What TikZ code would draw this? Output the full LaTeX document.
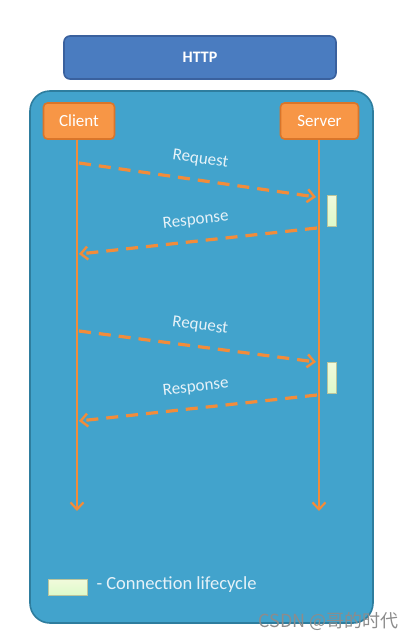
\documentclass[tikz,border=0pt]{standalone}
\usepackage{fontspec}
\setmainfont{Carlito}
\newfontfamily\cjk{Noto Sans CJK SC}
\usetikzlibrary{arrows.meta,shapes}

\definecolor{httpblue}{HTML}{4A7CC0}
\definecolor{httpedge}{HTML}{3A619E}
\definecolor{panel}{HTML}{42A3CC}
\definecolor{paneledge}{HTML}{2E7D9E}
\definecolor{peer}{HTML}{F79646}
\definecolor{peeredge}{HTML}{D9752A}
\definecolor{life}{HTML}{F28C3A}
\definecolor{bar}{HTML}{E9F6C4}
\definecolor{txt}{HTML}{E6F2F8}

\tikzset{
	peerbox/.style={draw=peeredge, line width=1.6pt, fill=peer, rounded corners=4pt, text=white, font=\fontsize{17}{19}\selectfont, minimum height=36pt},
	msg/.style={draw=life, line width=3.2pt, dash pattern=on 12pt off 8pt, -{Straight Barb[length=7pt, width=13pt, line width=2.4pt]}},
	msglabel/.style={text=txt, font=\fontsize{17}{19}\selectfont},
	lifebar/.style={draw=bar!80!black, line width=0.4pt, top color=white!40!bar, bottom color=bar!85!green!60!white}
}

\begin{document}
\begin{tikzpicture}[x=1pt, y=-1pt]
	\useasboundingbox (0,0) rectangle (416,640);

	\node[draw=httpedge, line width=1.6pt, fill=httpblue, rounded corners=6pt, minimum width=272pt, minimum height=43pt, text=white, font=\bfseries\fontsize{16}{18}\selectfont] (http) at (200,57.5) {HTTP};

	\draw[draw=paneledge, line width=1.6pt, fill=panel, rounded corners=20pt] (30,91) rectangle (373,623);

	\node[peerbox, minimum width=71pt] (client) at (79,121) {Client};
	\node[peerbox, minimum width=78pt] (server) at (319.5,121) {Server};

	% lifelines
	\coordinate (clientend) at (77,511);
	\coordinate (serverend) at (319,511);
	\draw[draw=life, line width=2.2pt, -{Straight Barb[length=7pt, width=13pt, line width=2.2pt]}] (77,140) -- (clientend);
	\draw[draw=life, line width=2.2pt, -{Straight Barb[length=7pt, width=13pt, line width=2.2pt]}] (319,140) -- (serverend);

	% first exchange
	\draw[msg] (79,163) -- (316,197) node[pos=0.5, sloped, above=9pt, msglabel]{Request};
	\draw[msg] (317,228) -- (79,254) node[pos=0.5, sloped, above=9pt, msglabel]{Response};
	\draw[lifebar] (327,195) rectangle (336,226);

	% second exchange
	\draw[msg] (79,331) -- (316,362) node[pos=0.5, sloped, above=9pt, msglabel]{Request};
	\draw[msg] (317,395) -- (79,421) node[pos=0.5, sloped, above=9pt, msglabel]{Response};
	\draw[lifebar] (327,362) rectangle (336,393);

	% legend
	\draw[lifebar] (48,579) rectangle (87,595);
	\node[anchor=west, msglabel, font=\fontsize{18.5}{20}\selectfont] (legend) at (93,585) {- Connection lifecycle};

	\node[anchor=east, text=gray!90, font=\cjk\fontsize{18}{20}\selectfont] (mark) at (402,621) {CSDN @哥的时代};
\end{tikzpicture}
\end{document}
